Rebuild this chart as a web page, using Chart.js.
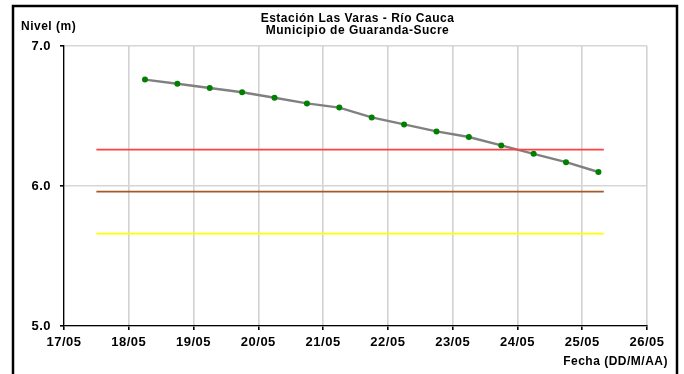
<!DOCTYPE html>
<html>
<head>
<meta charset="utf-8">
<script src="https://cdn.jsdelivr.net/npm/chart.js@4.4.1/dist/chart.umd.min.js"></script>
<style>
  html, body { margin: 0; padding: 0; background: #fff; }
  #wrap { width: 684px; height: 374px; position: relative; }
</style>
</head>
<body>
<div id="wrap"><canvas id="nivelChart" width="684" height="374"></canvas></div>
<script>
// --- data ---
const dias = ['17/05', '18/05', '19/05', '20/05', '21/05', '22/05', '23/05', '24/05', '25/05', '26/05'];

const fechas = [
  '18/05 06:00', '18/05 18:00', '19/05 06:00', '19/05 18:00', '20/05 06:00',
  '20/05 18:00', '21/05 06:00', '21/05 18:00', '22/05 06:00', '22/05 18:00',
  '23/05 06:00', '23/05 18:00', '24/05 06:00', '24/05 18:00', '25/05 06:00'
];
const niveles = [6.76, 6.73, 6.70, 6.67, 6.63, 6.59, 6.56, 6.49, 6.44, 6.39, 6.35, 6.29, 6.23, 6.17, 6.10];

// alert thresholds (red, brown, yellow)
const umbralInicio = '17/05 12:00';
const umbralFin = '25/05 08:00';
const umbrales = [6.26, 5.96, 5.66];
const umbralColores = ['#ff4040', '#a05a28', '#ffff00'];

const yTicks = [5, 6, 7];

// "DD/MM HH:MM" -> days since first tick label
function aDia(s) {
  const [fecha, hora] = s.split(' ');
  const idx = dias.indexOf(fecha);
  const [h, m] = (hora || '00:00').split(':').map(Number);
  return idx + (h + m / 60) / 24;
}

const FONT = 'Liberation Sans, Arial, sans-serif';

// the reference text is a little wider than plain Arial
const espaciado = {
  id: 'espaciado',
  beforeDraw(chart) { chart.ctx.letterSpacing = '0.5px'; }
};

// frame + loose texts drawn on the canvas
const textos = {
  id: 'textos',
  afterDraw(chart) {
    const ctx = chart.ctx;
    const area = chart.chartArea;
    ctx.save();
    ctx.letterSpacing = '0.5px';
    ctx.fillStyle = '#000';
    ctx.font = 'bold 12px ' + FONT;
    ctx.textAlign = 'center';
    ctx.textBaseline = 'middle';
    const cx = (area.left + area.right) / 2 + 2;
    ctx.fillText('Estación Las Varas - Río Cauca', cx, 19);
    ctx.fillText('Municipio de Guaranda-Sucre', cx, 31);

    ctx.textAlign = 'left';
    ctx.fillText('Nivel (m)', 21, 27);
    ctx.textAlign = 'right';
    ctx.fillText('Fecha (DD/M/AA)', 668, 362);

    ctx.strokeStyle = '#000';
    ctx.lineWidth = 2.5;
    ctx.strokeRect(13, 6, 664, 380);
    ctx.restore();
  }
};

const datasets = [];
umbrales.forEach((v, i) => {
  datasets.push({
    data: [{ x: aDia(umbralInicio), y: v }, { x: aDia(umbralFin), y: v }],
    borderColor: umbralColores[i],
    borderWidth: 1.6,
    pointRadius: 0,
    tension: 0
  });
});
datasets.push({
  data: fechas.map((f, i) => ({ x: aDia(f), y: niveles[i] })),
  borderColor: '#808080',
  borderWidth: 2.4,
  pointRadius: 3,
  pointBackgroundColor: '#008000',
  pointBorderColor: '#008000',
  pointBorderWidth: 0,
  tension: 0
});

new Chart(document.getElementById('nivelChart').getContext('2d'), {
  type: 'line',
  data: { datasets },
  plugins: [espaciado, textos],
  options: {
    responsive: false,
    animation: false,
    layout: { padding: { left: 0, top: 46, right: 37, bottom: 0 } },
    plugins: { legend: { display: false }, tooltip: { enabled: false } },
    scales: {
      x: {
        type: 'linear',
        min: 0,
        max: dias.length - 1,
        afterBuildTicks: (s) => { s.ticks = dias.map((d, i) => ({ value: i })); },
        afterFit: (s) => { s.height = 48; },
        ticks: {
          callback: (v) => dias[v],
          color: '#000',
          font: { family: FONT, size: 13, weight: 'bold' },
          padding: 5,
          maxRotation: 0,
          autoSkip: false
        },
        grid: { color: '#d2d2d2', lineWidth: 1.6, tickLength: 4, tickColor: '#000' },
        border: { color: '#000', width: 1.3 }
      },
      y: {
        min: 5,
        max: 7,
        afterBuildTicks: (s) => { s.ticks = yTicks.map(v => ({ value: v })); },
        afterFit: (s) => { s.width = 64; },
        ticks: {
          callback: (v) => v.toFixed(1),
          color: '#000',
          font: { family: FONT, size: 13, weight: 'bold' },
          padding: 9
        },
        grid: { color: '#d6d6d6', lineWidth: 1.6, tickLength: 4, tickColor: '#000' },
        border: { color: '#000', width: 1.3 }
      }
    }
  }
});
</script>
</body>
</html>
